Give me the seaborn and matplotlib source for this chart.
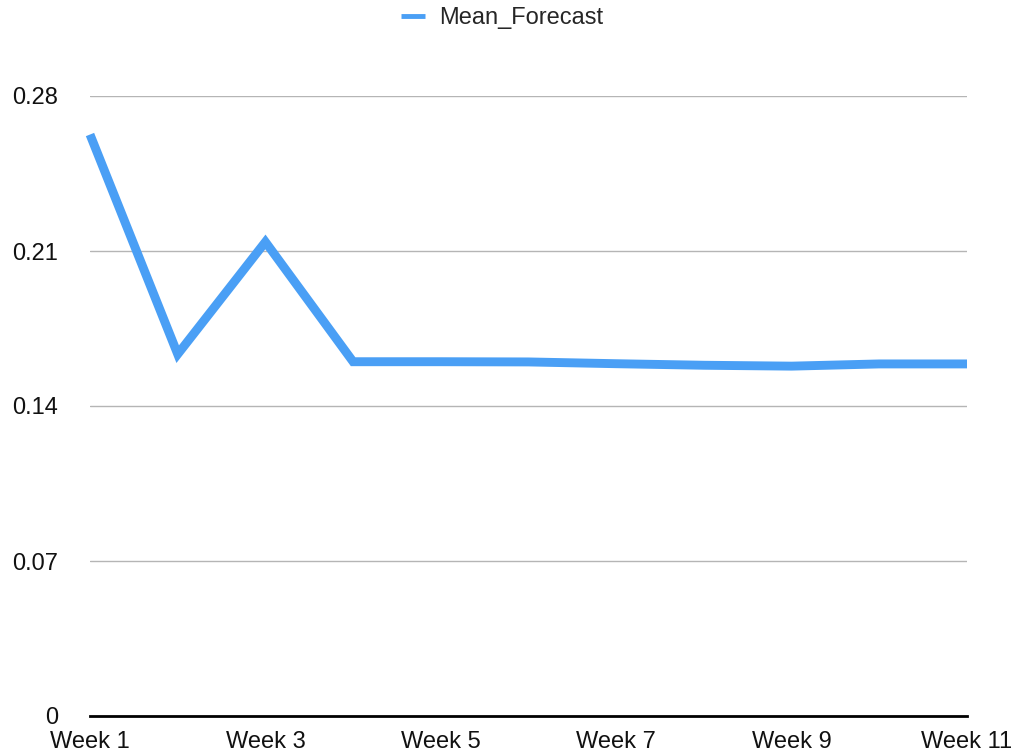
import matplotlib
matplotlib.use("Agg")
import matplotlib.pyplot as plt
import seaborn as sns
import pandas as pd

# Weekly mean forecast values
weeks = list(range(1, 12))
week_labels = [f"Week {w}" for w in weeks]
mean_forecast = [0.2626, 0.1634, 0.2141, 0.1600, 0.1600, 0.1599,
                 0.1591, 0.1584, 0.1580, 0.1590, 0.1590]
y_ticks = [0, 0.07, 0.14, 0.21, 0.28]
y_tick_labels = ["0", "0.07", "0.14", "0.21", "0.28"]
x_tick_weeks = [1, 3, 5, 7, 9, 11]

df = pd.DataFrame({"Week": weeks, "Mean_Forecast": mean_forecast})

sns.set_theme(style="white")
plt.rcParams["font.family"] = ["Liberation Sans", "DejaVu Sans"]

fig = plt.figure(figsize=(10.15, 7.56), dpi=100)
ax = fig.add_axes([90 / 1015, 40 / 756, 877 / 1015, 620 / 756])

line_color = "#4a9ff5"
sns.lineplot(data=df, x="Week", y="Mean_Forecast", ax=ax, color=line_color,
             linewidth=6.4, label="Mean_Forecast", clip_on=False,
             solid_joinstyle="miter", solid_capstyle="butt")

ax.set_xlim(1, 11)
ax.set_ylim(0, 0.28)
ax.set_yticks(y_ticks)
ax.set_yticklabels(y_tick_labels)
ax.set_xticks(x_tick_weeks)
ax.set_xticklabels([week_labels[w - 1] for w in x_tick_weeks])
ax.set_xlabel("")
ax.set_ylabel("")

ax.grid(axis="y", color="#b5b5b5", linewidth=1.0)
ax.grid(axis="x", visible=False)
ax.set_axisbelow(True)
for side in ["left", "right", "top"]:
    ax.spines[side].set_visible(False)
ax.spines["bottom"].set_color("black")
ax.spines["bottom"].set_linewidth(2.0)
ax.spines["bottom"].set_zorder(3)

ax.tick_params(axis="both", length=0, labelsize=17, labelcolor="#111111")
ax.tick_params(axis="y", pad=23)
ax.tick_params(axis="x", pad=11)

leg = ax.legend(loc="center", bbox_to_anchor=(0.47, 1.126),
                frameon=False, fontsize=17, handlelength=1.05,
                handletextpad=0.6)
for h in leg.get_lines():
    h.set_linewidth(3.5)
    h.set_solid_capstyle("butt")

fig.savefig("out.png", dpi=100)
